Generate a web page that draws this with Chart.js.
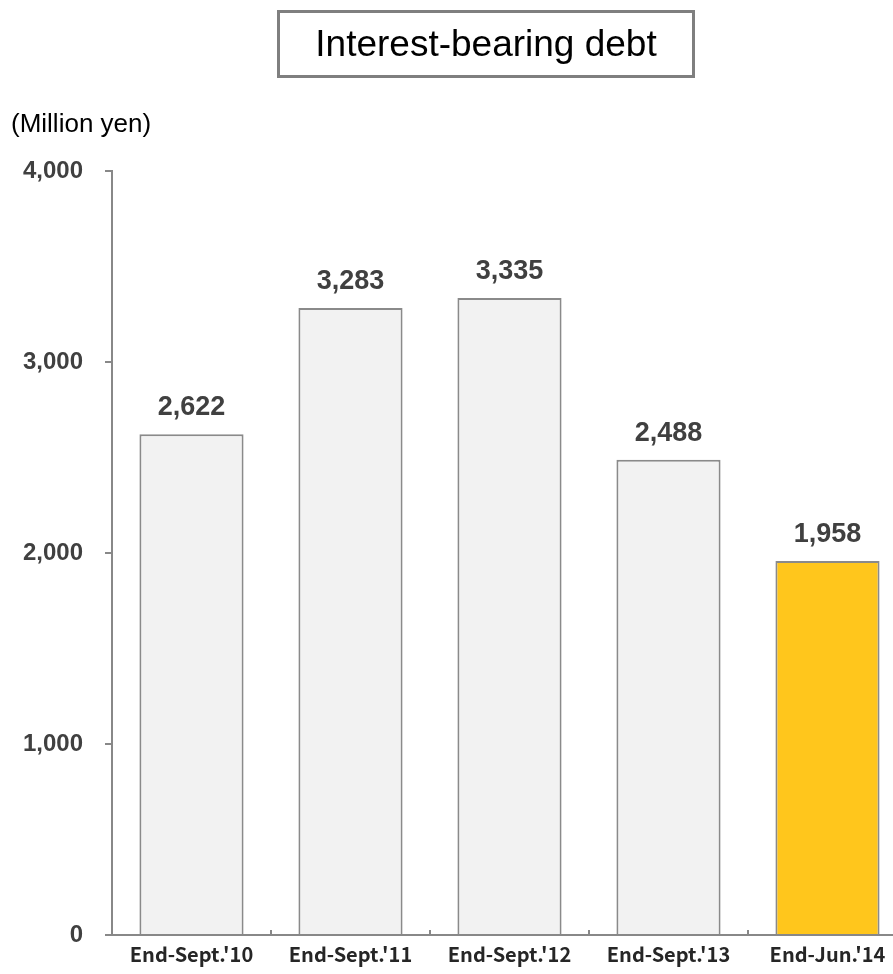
<!DOCTYPE html>
<html>
<head>
<meta charset="utf-8">
<script src="https://cdn.jsdelivr.net/npm/chart.js@4.4.1/dist/chart.umd.min.js"></script>
<style>
  html, body { margin: 0; padding: 0; background: #fff; overflow: hidden; }
  #wrap { position: absolute; left: 0; top: 0; width: 910px; height: 974px; }
  .title-box {
    position: absolute; left: 277px; top: 10px; width: 412px; height: 62px;
    border: 3px solid #7f7f7f; display: flex; align-items: center; justify-content: center;
    font-family: "Liberation Sans", Arial, sans-serif; font-size: 37px; color: #000;
  }
  .unit {
    position: absolute; left: 11px; top: 108px; line-height: 30px;
    font-family: "Liberation Sans", Arial, sans-serif; font-size: 26px; color: #000;
  }
</style>
</head>
<body>
<div id="wrap">
  <canvas id="debt-chart" width="910" height="974"></canvas>
</div>
<div class="title-box">Interest-bearing debt</div>
<div class="unit">(Million yen)</div>
<script>
const categories = ["End-Sept.'10", "End-Sept.'11", "End-Sept.'12", "End-Sept.'13", "End-Jun.'14"];
const debt = [2622, 3283, 3335, 2488, 1958];
const barColors = ['#f2f2f2', '#f2f2f2', '#f2f2f2', '#f2f2f2', '#ffc61c'];
const yMin = 0;
const yMax = 4000;
const yStep = 1000;

const axisGray = '#888888';

// value above each bar
const valueLabels = {
  id: 'valueLabels',
  afterDatasetsDraw(chart) {
    const ctx = chart.ctx;
    const meta = chart.getDatasetMeta(0);
    ctx.save();
    ctx.font = 'bold 27px "Liberation Sans", Arial, sans-serif';
    ctx.fillStyle = '#404040';
    ctx.textAlign = 'center';
    ctx.textBaseline = 'alphabetic';
    meta.data.forEach((bar, i) => {
      ctx.fillText(debt[i].toLocaleString('en-US'), bar.x, bar.y - 19);
    });
    ctx.restore();
  }
};

// small upward ticks between categories
const categoryTicks = {
  id: 'categoryTicks',
  afterDraw(chart) {
    const ctx = chart.ctx;
    const x = chart.scales.x;
    const bottom = chart.chartArea.bottom;
    ctx.save();
    ctx.strokeStyle = axisGray;
    ctx.lineWidth = 2;
    for (let i = 1; i < categories.length; i++) {
      const px = Math.round((x.getPixelForValue(i - 1) + x.getPixelForValue(i)) / 2);
      ctx.beginPath();
      ctx.moveTo(px, bottom - 5);
      ctx.lineTo(px, bottom);
      ctx.stroke();
    }
    ctx.restore();
  }
};

new Chart(document.getElementById('debt-chart'), {
  type: 'bar',
  data: {
    labels: categories,
    datasets: [{
      data: debt,
      backgroundColor: barColors,
      borderColor: '#8a8a8a',
      borderWidth: 2,
      categoryPercentage: 1,
      barPercentage: 0.655,
    }],
  },
  options: {
    responsive: false,
    animation: false,
    layout: { padding: { top: 171, right: 3, left: 0, bottom: 0 } },
    plugins: {
      legend: { display: false },
      tooltip: { enabled: false },
    },
    scales: {
      x: {
        grid: { drawOnChartArea: false, drawTicks: false },
        border: { color: axisGray, width: 2 },
        ticks: {
          color: '#262626',
          padding: 7,
          maxRotation: 0,
          font: { family: '"Noto Sans CJK JP", sans-serif', size: 20, weight: 'bold' },
        },
        afterFit: (scale) => { scale.height = 39; },
      },
      y: {
        min: yMin,
        max: yMax,
        grid: { drawOnChartArea: false, drawTicks: true, tickLength: 7, color: axisGray, lineWidth: 2 },
        border: { color: axisGray, width: 2 },
        ticks: {
          stepSize: yStep,
          color: '#404040',
          padding: 22,
          font: { family: '"Liberation Sans", Arial, sans-serif', size: 24, weight: 'bold' },
          callback: (v) => v.toLocaleString('en-US'),
        },
        afterFit: (scale) => { scale.width = 112; },
      },
    },
  },
  plugins: [valueLabels, categoryTicks],
});
</script>
</body>
</html>
